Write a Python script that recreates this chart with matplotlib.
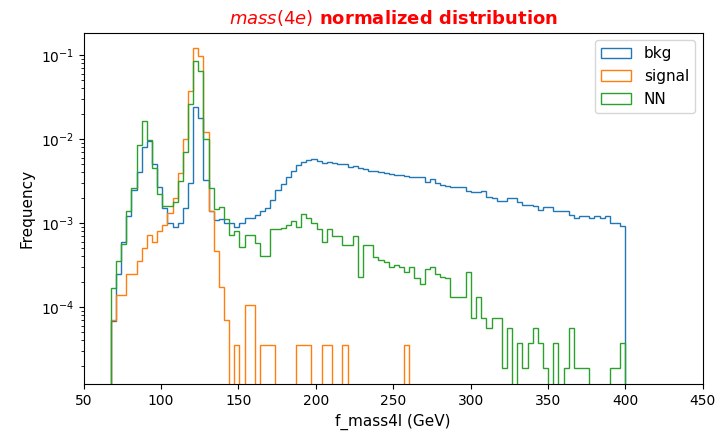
import numpy as np
from matplotlib import pyplot as plt

# binning of the f_mass4l histograms (GeV)
lo, hi, nbins = 67.5, 400.0, 100
edges = np.linspace(lo, hi, nbins + 1)

# normalized bin contents
bkg = [6.8e-5, 2.5e-4, 6e-4, 1.2e-3, 2.5e-3, 4e-3, 8e-3, 9.5e-3, 5e-3, 2.7e-3,
       1.5e-3, 1.0e-3, 9e-4, 1.0e-3, 1.5e-3, 3e-3, 2.4e-2, 1.78e-2, 3.25e-3, 1.37e-3,
       1.08e-3, 1.1e-3, 1.0e-3, 9.9e-4, 8.9e-4, 1.0e-3, 1.14e-3, 1.14e-3, 1.25e-3, 1.37e-3,
       1.5e-3, 1.88e-3, 2.45e-3, 2.9e-3, 3.56e-3, 4.2e-3, 4.9e-3, 5.3e-3, 5.6e-3, 5.7e-3,
       5.5e-3, 5.2e-3, 5.3e-3, 5.2e-3, 5.1e-3, 5.0e-3, 4.6e-3, 4.7e-3, 4.5e-3, 4.4e-3,
       4.2e-3, 4.1e-3, 4.0e-3, 3.9e-3, 3.8e-3, 3.7e-3, 3.7e-3, 3.6e-3, 3.55e-3, 3.5e-3,
       3.5e-3, 3.1e-3, 3.3e-3, 3.0e-3, 2.8e-3, 2.75e-3, 2.7e-3, 2.7e-3, 2.65e-3, 2.4e-3,
       2.35e-3, 2.35e-3, 2.4e-3, 2.05e-3, 2.0e-3, 1.85e-3, 1.83e-3, 2.0e-3, 2.0e-3, 1.8e-3,
       1.64e-3, 1.64e-3, 1.6e-3, 1.43e-3, 1.55e-3, 1.55e-3, 1.37e-3, 1.4e-3, 1.4e-3, 1.25e-3,
       1.15e-3, 1.2e-3, 1.2e-3, 1.15e-3, 1.2e-3, 1.15e-3, 1.2e-3, 1.0e-3, 1.0e-3, 9.2e-4]

sig_unit = 3.5e-5   # one signal event
signal = [7e-5, 1.4e-4, 1.4e-4, 2.5e-4, 2.5e-4, 3.5e-4, 5e-4, 7.2e-4, 6e-4, 8.1e-4,
          9.5e-4, 1.3e-3, 2e-3, 3.9e-3, 1.0e-2, 3.7e-2, 1.2e-1, 9.6e-2, 1.2e-2, 1.4e-3,
          4.6e-4, 1.74e-4, 7e-5, 0, sig_unit, 0, 1.05e-4, 1.05e-4, 0, sig_unit,
          sig_unit, sig_unit, 0, 0, 0, 0, sig_unit, sig_unit, sig_unit, 0,
          0, sig_unit, sig_unit, 0, 0, sig_unit, 0, 0, 0, 0,
          0, 0, 0, 0, 0, 0, 0, sig_unit, 0, 0] + [0] * 40

nn_unit = 1.87e-5   # one NN event
nn = [1.67e-4, 3.5e-4, 5.6e-4, 1.4e-3, 2.6e-3, 8.5e-3, 1.65e-2, 9.7e-3, 4.5e-3, 2.2e-3,
      1.6e-3, 1.6e-3, 1.8e-3, 3.2e-3, 7e-3, 2.6e-2, 8.5e-2, 6.5e-2, 1.0e-2, 2.6e-3,
      1.48e-3, 1.56e-3, 1.1e-3, 7.2e-4, 8e-4, 5.2e-4, 7.2e-4, 7.2e-4, 5.8e-4, 4e-4,
      4e-4, 8.5e-4, 8.5e-4, 8.8e-4, 9.5e-4, 1.05e-3, 9e-4, 1.28e-3, 1.15e-3, 1.0e-3,
      8.5e-4, 6e-4, 8.5e-4, 7e-4, 7e-4, 5.5e-4, 5.5e-4, 7e-4, 2.3e-4, 5.4e-4,
      5.4e-4, 3.9e-4, 3.6e-4, 3.4e-4, 3.0e-4, 3.2e-4, 3.0e-4, 2.6e-4, 3.0e-4, 2.2e-4,
      1.9e-4, 2.8e-4, 3.0e-4, 2.5e-4, 2.3e-4, 2.2e-4, 1.3e-4, 1.3e-4, 1.3e-4, 2.6e-4,
      4 * nn_unit, 7 * nn_unit, 4 * nn_unit, 3 * nn_unit, 4 * nn_unit, 4 * nn_unit, nn_unit, 3 * nn_unit, 0, 2 * nn_unit,
      nn_unit, 2 * nn_unit, 3 * nn_unit, 2 * nn_unit, nn_unit, 0, 2 * nn_unit, 0, nn_unit, 3 * nn_unit,
      nn_unit, nn_unit, nn_unit, 0, 0, 0, 0, nn_unit, nn_unit, 2 * nn_unit]

series = [("bkg", bkg), ("signal", signal), ("NN", nn)]

fig = plt.figure(figsize=(7.2, 4.36), dpi=100)
ax = fig.add_axes([0.1163, 0.1186, 0.8597, 0.8064])

for name, vals in series:
    ax.hist(edges[:-1], bins=edges, weights=vals, histtype='step', log=True, label=name)

ax.set_xlim(50, 450)
ax.set_ylim(1.2e-5, 0.184)
ax.set_xlabel("f_mass4l (GeV)", fontsize=11)
ax.set_ylabel("Frequency", fontsize=11)
ax.set_title(r"$mass(4e)$ normalized distribution", color='red', fontweight='bold', fontsize=13)
ax.legend(loc='upper right', fontsize=11)

fig.savefig("out.png")
